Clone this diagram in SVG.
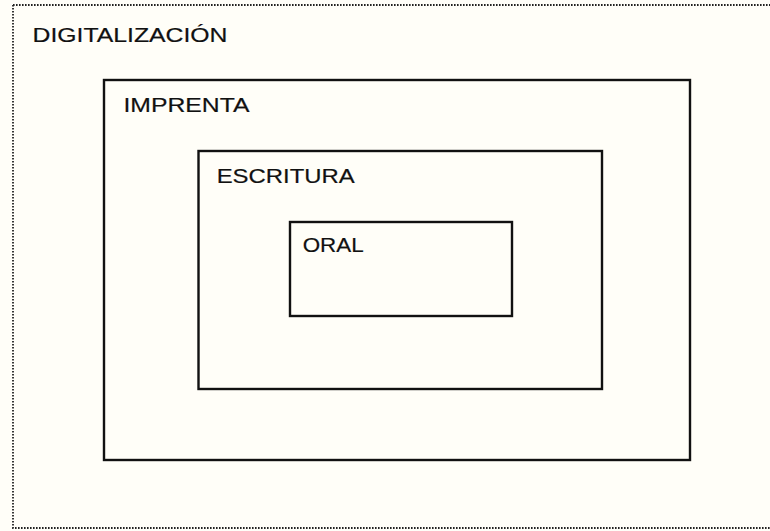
<svg xmlns="http://www.w3.org/2000/svg" width="770" height="531" viewBox="0 0 770 531">
<style>
.box{fill:none;stroke:#111;stroke-width:2.4}
.lbl{font-family:"Liberation Sans",Arial,sans-serif;font-size:21px;fill:#111;stroke:#111;stroke-width:0.2}
</style>
<rect x="0" y="0" width="770" height="531" fill="#fffef8"/>
<g id="digitalizacion">
<path d="M13,5 H770 M13,5 V528 H770" fill="none" stroke="#222" stroke-width="1.8" stroke-dasharray="1.6,1.4"/>
<text class="lbl" x="32.5" y="41.7" textLength="195" lengthAdjust="spacingAndGlyphs">DIGITALIZACIÓN</text>
</g>
<g id="imprenta">
<rect class="box" x="104" y="80" width="586" height="380"/>
<text class="lbl" x="123.5" y="112.3" textLength="126" lengthAdjust="spacingAndGlyphs">IMPRENTA</text>
</g>
<g id="escritura">
<rect class="box" x="198.5" y="151" width="403.5" height="238"/>
<text class="lbl" x="216.7" y="183.3" textLength="138" lengthAdjust="spacingAndGlyphs">ESCRITURA</text>
</g>
<g id="oral">
<rect class="box" x="290" y="222" width="222" height="94"/>
<text class="lbl" x="302.7" y="252.3" textLength="61" lengthAdjust="spacingAndGlyphs">ORAL</text>
</g>
<g id="connectors"/>
</svg>
